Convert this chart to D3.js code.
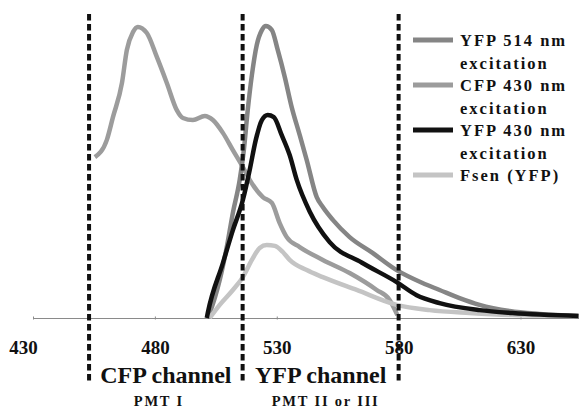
<!DOCTYPE html>
<html>
<head>
<meta charset="utf-8">
<script src="https://cdn.jsdelivr.net/npm/d3@7"></script>
<style>
  html, body { margin: 0; padding: 0; background: #fff; }
  svg { display: block; }
  text { font-family: "Liberation Serif", "Times New Roman", serif; font-weight: bold; fill: #111; }
</style>
</head>
<body>
<svg id="chart" width="579" height="419"></svg>
<script>
// ---- data (wavelength nm, normalized intensity 0-100) ----
const cfp430 = [
  [455.4,55.1],[460.3,61.0],[462.8,68.8],[466.5,80.5],[468.5,91.8],[471.0,97.9],[473.0,99.7],
  [476.7,97.6],[480.8,89.4],[484.9,80.5],[489.0,71.2],[491.5,68.5],[495.6,67.8],[500.5,69.2],
  [503.8,67.8],[507.9,63.4],[512.0,57.5],[516.1,51.7],[518.9,47.3],[524.3,41.4],[528.0,39.4],
  [531.2,32.5],[534.1,27.7],[539.4,24.3],[548.9,19.9],[559.9,15.4],[571.0,9.6],[576.3,6.2],[579.5,1.0]
];
const yfp514 = [
  [501.7,0],[502.5,1.7],[506.6,13.0],[509.5,24.3],[512.0,36.0],[514.8,47.3],[516.5,57.5],
  [518.1,71.2],[519.8,83.2],[521.8,93.5],[523.9,98.6],[525.5,100],[528.0,98.6],[530.4,91.8],
  [533.3,82.5],[536.1,72.3],[539.4,62.7],[542.3,54.1],[546.4,41.4],[548.9,38.0],[553.0,33.6],
  [559.9,27.7],[569.3,22.3],[579.2,16.4],[589.8,12.0],[596.8,9.6],[605.0,6.8],[613.2,4.5],
  [625.5,2.4],[637.8,1.4],[653.8,0.7]
];
const yfp430 = [
  [501.3,0],[501.7,1.7],[507.9,18.8],[512.0,30.1],[516.1,40.4],[518.9,50.7],[521.4,61.0],
  [523.9,67.8],[526.3,69.5],[528.8,68.8],[532.0,62.7],[535.3,55.8],[538.2,47.3],[543.5,36.5],
  [551.7,26.0],[564.8,19.0],[579.2,12.3],[587.4,7.8],[596.8,5.1],[613.2,2.7],[626.7,1.7],[653.8,0.7]
];
const fsen = [
  [502.5,0],[506.6,4.5],[512.0,9.6],[516.1,14.0],[519.8,19.9],[523.0,24.0],[525.9,25.0],
  [529.2,24.7],[532.5,22.6],[535.3,19.9],[542.3,16.4],[548.9,14.0],[562.8,9.6],[579.2,4.5],
  [592.7,2.7],[609.1,1.7],[626.7,1.0],[653.8,0.7]
];
const seriesNames = ["YFP 514 nm excitation", "CFP 430 nm excitation", "YFP 430 nm excitation", "Fsen (YFP)"];
const seriesColors = ["#858585", "#9c9c9c", "#111111", "#c4c4c4"];
const tickValues = [430, 480, 530, 580, 630];
const channelBounds = [453, 516, 580];
const channelLabels = [
  {name: "CFP channel", sub: "PMT I", from: 453, to: 516},
  {name: "YFP channel", sub: "PMT II or III", from: 516, to: 580}
];

// ---- drawing ----
const svg = d3.select("#chart");
const x = d3.scaleLinear().domain([430, 654]).range([33, 579]);
const y = d3.scaleLinear().domain([0, 100]).range([318, 26]);

// axis
const axis = d3.axisBottom(x).tickValues(tickValues).tickSize(3).tickSizeOuter(0).tickFormat(d3.format("d"));
const ag = svg.append("g").attr("transform", `translate(0,${y(0)})`).call(axis);
ag.select(".domain").attr("stroke", "#8a8a8a").attr("stroke-width", 1.2);
ag.selectAll(".tick line").attr("stroke", "#8a8a8a").attr("y1", -1.5).attr("y2", 1.5);
ag.selectAll(".tick text").attr("y", 36).attr("dy", 0)
  .attr("dx", d => d === 430 ? -10 : 0)
  .style("font-size", "19px").style("font-family", "'Liberation Serif', serif").style("font-weight", "bold")
  .attr("fill", "#111");

// curves
const line = d3.line().x(d => x(d[0])).y(d => y(d[1])).curve(d3.curveMonotoneX);
const data = [cfp430, yfp514, fsen, yfp430];
const colorIdx = [1, 0, 3, 2];
data.forEach((s, i) => {
  svg.append("path").datum(s).attr("d", line)
    .attr("fill", "none").attr("stroke", seriesColors[colorIdx[i]])
    .attr("stroke-width", 4.5).attr("stroke-linejoin", "round").attr("stroke-linecap", "butt");
});

// dashed channel bounds
svg.selectAll("line.bound").data(channelBounds).enter().append("line")
  .attr("class", "bound")
  .attr("x1", d => x(d)).attr("x2", d => x(d))
  .attr("y1", 14).attr("y2", 383)
  .attr("stroke", "#111").attr("stroke-width", 4).attr("stroke-dasharray", "6.5,3.5");

// channel labels
channelLabels.forEach(c => {
  const cx = (x(c.from) + x(c.to)) / 2;
  svg.append("text").attr("x", cx).attr("y", 383).attr("text-anchor", "middle")
    .style("font-size", "24px").text(c.name);
  svg.append("text").attr("x", cx + (c.sub === "PMT I" ? -7 : 5)).attr("y", 406).attr("text-anchor", "middle")
    .style("font-size", "14.5px").style("letter-spacing", "1.8px").text(c.sub);
});

// legend
const legendRows = [
  ["YFP 514 nm", "excitation"],
  ["CFP 430 nm", "excitation"],
  ["YFP 430 nm", "excitation"],
  ["Fsen (YFP)"]
];
let rowY = 40;
legendRows.forEach((rows, i) => {
  svg.append("line").attr("x1", 413).attr("x2", 453).attr("y1", rowY).attr("y2", rowY)
    .attr("stroke", seriesColors[i]).attr("stroke-width", 5);
  rows.forEach((t, j) => {
    svg.append("text").attr("x", 460).attr("y", rowY + j * 23 + 5.5)
      .style("font-size", "16.5px").style("letter-spacing", "2px").text(t);
  });
  rowY += rows.length * 22.5;
});
</script>
</body>
</html>
